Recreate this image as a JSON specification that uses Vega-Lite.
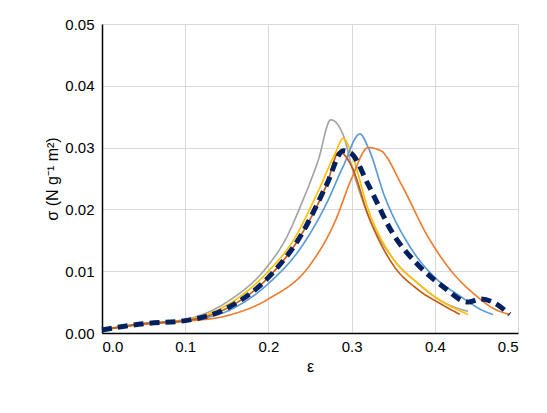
{"$schema":"https://vega.github.io/schema/vega-lite/v6.json","width":416,"height":309,"autosize":"none","padding":{"left":102,"top":24,"right":29,"bottom":80},"background":"white","config":{"view":{"stroke":null},"font":"Liberation Sans"},
"datasets":{"d":[
{"s":"grey","x":0,"y":0.0005},{"s":"grey","x":0.05,"y":0.0015},{"s":"grey","x":0.1,"y":0.0022},{"s":"grey","x":0.15,"y":0.005},{"s":"grey","x":0.2,"y":0.011},{"s":"grey","x":0.22,"y":0.015},{"s":"grey","x":0.24,"y":0.021},{"s":"grey","x":0.26,"y":0.028},{"s":"grey","x":0.275,"y":0.0345},{"s":"grey","x":0.29,"y":0.032},{"s":"grey","x":0.3,"y":0.027},{"s":"grey","x":0.32,"y":0.019},{"s":"grey","x":0.35,"y":0.012},{"s":"grey","x":0.38,"y":0.008},{"s":"grey","x":0.41,"y":0.005},{"s":"grey","x":0.44,"y":0.0035},
{"s":"yellow","x":0,"y":0.0005},{"s":"yellow","x":0.05,"y":0.0015},{"s":"yellow","x":0.1,"y":0.0021},{"s":"yellow","x":0.15,"y":0.0045},{"s":"yellow","x":0.2,"y":0.01},{"s":"yellow","x":0.23,"y":0.015},{"s":"yellow","x":0.26,"y":0.023},{"s":"yellow","x":0.28,"y":0.029},{"s":"yellow","x":0.29,"y":0.0315},{"s":"yellow","x":0.3,"y":0.029},{"s":"yellow","x":0.32,"y":0.02},{"s":"yellow","x":0.35,"y":0.012},{"s":"yellow","x":0.38,"y":0.008},{"s":"yellow","x":0.41,"y":0.005},{"s":"yellow","x":0.44,"y":0.003},
{"s":"blue","x":0,"y":0.0005},{"s":"blue","x":0.05,"y":0.0015},{"s":"blue","x":0.1,"y":0.002},{"s":"blue","x":0.15,"y":0.0035},{"s":"blue","x":0.2,"y":0.008},{"s":"blue","x":0.24,"y":0.014},{"s":"blue","x":0.27,"y":0.021},{"s":"blue","x":0.29,"y":0.027},{"s":"blue","x":0.31,"y":0.0322},{"s":"blue","x":0.32,"y":0.03},{"s":"blue","x":0.34,"y":0.022},{"s":"blue","x":0.37,"y":0.014},{"s":"blue","x":0.4,"y":0.009},{"s":"blue","x":0.43,"y":0.006},{"s":"blue","x":0.46,"y":0.0035},{"s":"blue","x":0.47,"y":0.003},
{"s":"orange","x":0,"y":0.0005},{"s":"orange","x":0.05,"y":0.0014},{"s":"orange","x":0.1,"y":0.0019},{"s":"orange","x":0.15,"y":0.0028},{"s":"orange","x":0.2,"y":0.0055},{"s":"orange","x":0.25,"y":0.011},{"s":"orange","x":0.28,"y":0.018},{"s":"orange","x":0.3,"y":0.025},{"s":"orange","x":0.32,"y":0.03},{"s":"orange","x":0.335,"y":0.0295},{"s":"orange","x":0.36,"y":0.024},{"s":"orange","x":0.39,"y":0.016},{"s":"orange","x":0.42,"y":0.01},{"s":"orange","x":0.45,"y":0.006},{"s":"orange","x":0.47,"y":0.004},{"s":"orange","x":0.49,"y":0.003},
{"s":"brown","x":0,"y":0.0005},{"s":"brown","x":0.05,"y":0.0015},{"s":"brown","x":0.1,"y":0.002},{"s":"brown","x":0.15,"y":0.004},{"s":"brown","x":0.2,"y":0.009},{"s":"brown","x":0.24,"y":0.016},{"s":"brown","x":0.27,"y":0.024},{"s":"brown","x":0.285,"y":0.0293},{"s":"brown","x":0.3,"y":0.027},{"s":"brown","x":0.32,"y":0.019},{"s":"brown","x":0.35,"y":0.011},{"s":"brown","x":0.38,"y":0.007},{"s":"brown","x":0.41,"y":0.0045},{"s":"brown","x":0.43,"y":0.003},
{"s":"navy","x":0,"y":0.0005},{"s":"navy","x":0.05,"y":0.0015},{"s":"navy","x":0.1,"y":0.002},{"s":"navy","x":0.15,"y":0.004},{"s":"navy","x":0.2,"y":0.009},{"s":"navy","x":0.24,"y":0.016},{"s":"navy","x":0.27,"y":0.024},{"s":"navy","x":0.29,"y":0.0295},{"s":"navy","x":0.3,"y":0.029},{"s":"navy","x":0.32,"y":0.024},{"s":"navy","x":0.35,"y":0.016},{"s":"navy","x":0.38,"y":0.011},{"s":"navy","x":0.41,"y":0.0075},{"s":"navy","x":0.44,"y":0.005},{"s":"navy","x":0.455,"y":0.0055},{"s":"navy","x":0.47,"y":0.005},{"s":"navy","x":0.49,"y":0.003}
]},
"data":{"name":"d"},
"mark":{"type":"line","interpolate":"monotone"},
"encoding":{
"x":{"field":"x","type":"quantitative","scale":{"domain":[0,0.5]},"axis":{"title":"ε","format":".1f","tickCount":5,"labelFontSize":15,"titleFontSize":16,"titleFontWeight":"normal","labelColor":"black","titleColor":"black","domainColor":"black","domainWidth":1.5,"ticks":false,"gridColor":"#d9d9d9","labelPadding":6}},
"y":{"field":"y","type":"quantitative","scale":{"domain":[0,0.05]},"axis":{"title":"σ (N g⁻¹ m²)","format":".2f","tickCount":5,"labelFontSize":15,"titleFontSize":16,"titleFontWeight":"normal","labelColor":"black","titleColor":"black","domainColor":"black","domainWidth":1.5,"ticks":false,"gridColor":"#d9d9d9","labelPadding":8}},
"color":{"field":"s","type":"nominal","legend":null,"scale":{"domain":["grey","yellow","blue","orange","brown","navy"],"range":["#a5a5a5","#ffc000","#5b9bd5","#ed7d31","#c55a11","#002060"]}},
"order":{"field":"x"},
"strokeWidth":{"condition":{"test":"datum.s==='navy'","value":5},"value":1.7},
"strokeDash":{"field":"s","type":"nominal","legend":null,"scale":{"domain":["grey","yellow","blue","orange","brown","navy"],"range":[[1,0],[1,0],[1,0],[1,0],[1,0],[10,6]]}}
}}
